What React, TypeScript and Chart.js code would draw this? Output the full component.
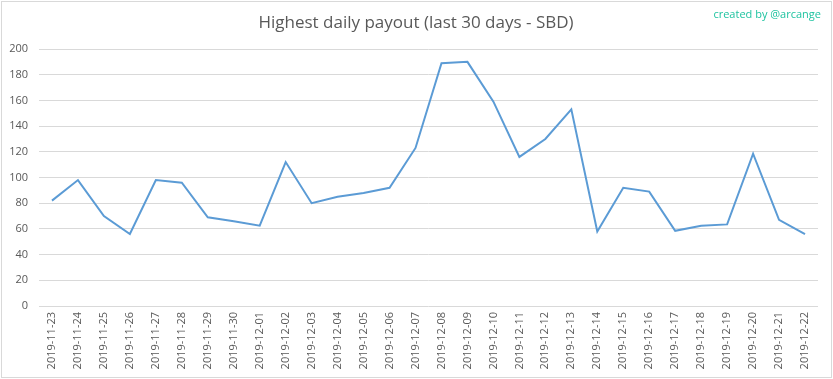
import React, { useEffect, useRef } from "react";
import { Chart, registerables } from "chart.js";

Chart.register(...registerables);

const dates = [
  "2019-11-23", "2019-11-24", "2019-11-25", "2019-11-26", "2019-11-27", "2019-11-28",
  "2019-11-29", "2019-11-30", "2019-12-01", "2019-12-02", "2019-12-03", "2019-12-04",
  "2019-12-05", "2019-12-06", "2019-12-07", "2019-12-08", "2019-12-09", "2019-12-10",
  "2019-12-11", "2019-12-12", "2019-12-13", "2019-12-14", "2019-12-15", "2019-12-16",
  "2019-12-17", "2019-12-18", "2019-12-19", "2019-12-20", "2019-12-21", "2019-12-22",
];

const payouts = [
  82, 98, 70, 56, 98, 96, 69, 66, 62.5, 112, 80, 85, 88, 92, 123, 189, 190, 159,
  116, 130, 153, 58, 92, 89, 58.5, 62.5, 63.5, 118.5, 67, 56,
];

const titleText = "Highest daily payout (last 30 days - SBD)";
const creditText = "created by @arcange";

export default function App() {
  const ref = useRef<HTMLCanvasElement | null>(null);

  useEffect(() => {
    document.body.style.margin = "0";
    const canvas = ref.current;
    if (!canvas) return;

    const framePlugin = {
      id: "frame",
      beforeDraw(chart: any) {
        const ctx = chart.ctx;
        ctx.save();
        ctx.fillStyle = "#ffffff";
        ctx.fillRect(0, 0, chart.width, chart.height);
        ctx.strokeStyle = "#d9d9d9";
        ctx.lineWidth = 1;
        ctx.strokeRect(1.5, 1.5, chart.width - 3, chart.height - 3);
        ctx.restore();
      },
      afterDraw(chart: any) {
        const ctx = chart.ctx;
        ctx.save();
        ctx.fillStyle = "#595959";
        ctx.font = '17px "Open Sans", sans-serif';
        ctx.textAlign = "center";
        ctx.textBaseline = "middle";
        ctx.fillText(titleText, 416, 23);
        ctx.fillStyle = "#1fc3a0";
        ctx.font = '11px "Open Sans", sans-serif';
        ctx.textAlign = "right";
        ctx.fillText(creditText, 821, 15);
        ctx.restore();
      },
    };

    const chart = new Chart(canvas, {
      type: "line",
      data: {
        labels: dates,
        datasets: [
          {
            data: payouts,
            borderColor: "#5b9bd5",
            backgroundColor: "#5b9bd5",
            borderWidth: 2,
            pointRadius: 0,
            tension: 0,
            fill: false,
          },
        ],
      },
      options: {
        animation: false,
        responsive: false,
        layout: { padding: { left: 0, top: 49, right: 15, bottom: 0 } },
        plugins: {
          legend: { display: false },
          title: { display: false },
          tooltip: { enabled: false },
        },
        scales: {
          x: {
            offset: true,
            grid: { display: false, drawTicks: false },
            border: { display: false },
            ticks: {
              color: "#595959",
              font: { size: 11, family: '"Open Sans", sans-serif' },
              maxRotation: 90,
              minRotation: 90,
              autoSkip: false,
              padding: 6,
            },
            afterFit(scale: any) {
              scale.height = 73;
            },
          },
          y: {
            min: 0,
            max: 200,
            grid: { color: "#d9d9d9", drawTicks: false, lineWidth: 1 },
            border: { display: false },
            ticks: {
              stepSize: 20,
              color: "#595959",
              font: { size: 11, family: '"Open Sans", sans-serif' },
              padding: 11,
            },
            afterFit(scale: any) {
              scale.width = 39;
            },
          },
        },
      },
      plugins: [framePlugin],
    });

    return () => chart.destroy();
  }, []);

  return <canvas ref={ref} width={833} height={379} style={{ display: "block" }} />;
}
